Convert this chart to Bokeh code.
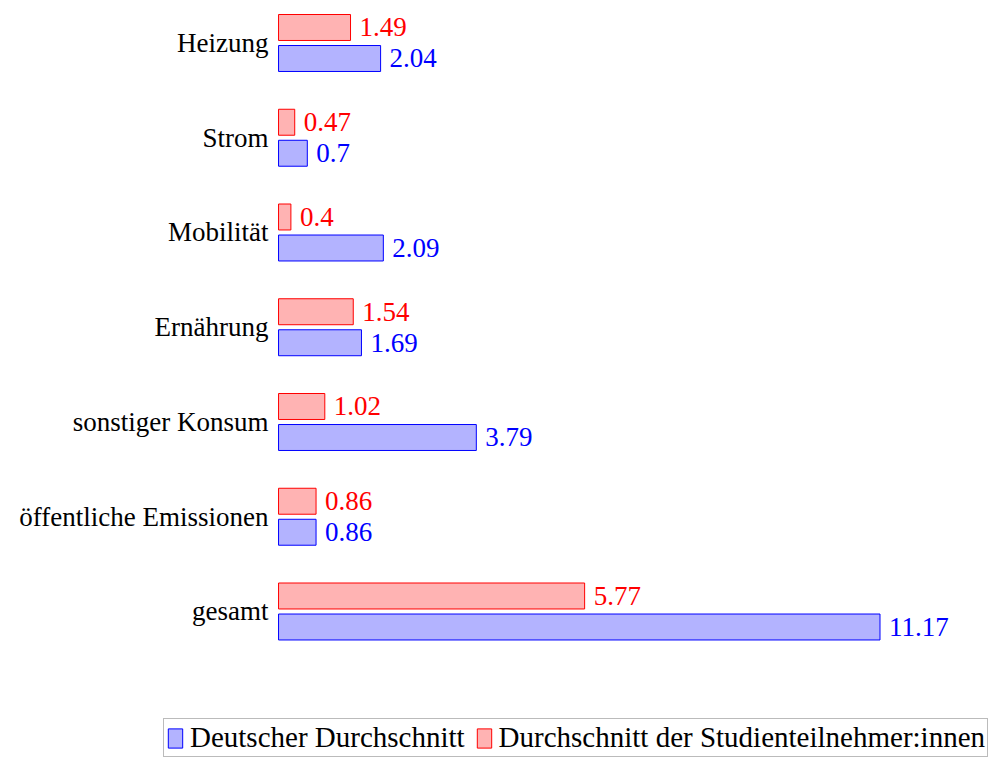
from bokeh.plotting import figure
from bokeh.models import Range1d, ColumnDataSource, Legend, LegendItem
from bokeh.core.properties import value
from bokeh.embed import file_html
from bokeh.resources import INLINE

categories = ["Heizung", "Strom", "Mobilität", "Ernährung", "sonstiger Konsum",
              "öffentliche Emissionen", "gesamt"]
deutsch = [2.04, 0.7, 2.09, 1.69, 3.79, 0.86, 11.17]
studierende = [1.49, 0.47, 0.4, 1.54, 1.02, 0.86, 5.77]
series_names = ["Deutscher Durchschnitt", "Durchschnitt der Studienteilnehmer:innen"]

XMIN = 0.174          # value axis starts here (bars grow from it)
FONT = "Liberation Serif"
FS = "27px"
BLUE_FILL, BLUE_LINE = "#b3b3ff", "#0000ff"
RED_FILL, RED_LINE = "#ffb3b3", "#ff0000"
n = len(categories)
ypos = [n - 1 - i for i in range(n)]

p = figure(width=997, height=758, output_backend="svg", toolbar_location=None,
           x_range=Range1d(-4.909, 13.318), y_range=Range1d(-1.5515, 6.4485),
           x_axis_location=None, y_axis_location=None,
           min_border_left=0, min_border_right=0, min_border_top=0, min_border_bottom=0)
p.outline_line_color = None
p.xgrid.visible = False
p.ygrid.visible = False

OFF = 0.1636
H = 0.274
src_b = ColumnDataSource(dict(y=[v - OFF for v in ypos], right=deutsch,
                              left=[XMIN] * n, lab=[str(v) for v in deutsch]))
src_r = ColumnDataSource(dict(y=[v + OFF for v in ypos], right=studierende,
                              left=[XMIN] * n, lab=[str(v) for v in studierende]))
src_c = ColumnDataSource(dict(y=ypos, x=[XMIN] * n, cat=categories))

rb = p.hbar(y="y", left="left", right="right", height=H, source=src_b,
            fill_color=BLUE_FILL, line_color=BLUE_LINE, line_width=1)
rr = p.hbar(y="y", left="left", right="right", height=H, source=src_r,
            fill_color=RED_FILL, line_color=RED_LINE, line_width=1)

p.text(x="right", y="y", text="lab", source=src_b, x_offset=9, text_align="left",
       text_baseline="middle", text_color=BLUE_LINE, text_font=value(FONT),
       text_font_size=FS)
p.text(x="right", y="y", text="lab", source=src_r, x_offset=9, text_align="left",
       text_baseline="middle", text_color=RED_LINE, text_font=value(FONT),
       text_font_size=FS)

# category labels (tick labels of the category axis)
p.text(x="x", y="y", text="cat", source=src_c, x_offset=-10, text_align="right",
       text_baseline="middle", text_color="black", text_font=value(FONT),
       text_font_size=FS)

legend = Legend(items=[LegendItem(label=series_names[0], renderers=[rb]),
                       LegendItem(label=series_names[1], renderers=[rr])],
                location=(163, 1), orientation="horizontal",
                label_text_font=FONT, label_text_font_size="29px",
                label_text_color="black", border_line_color="#777777",
                border_line_width=1, background_fill_alpha=1.0,
                glyph_width=18, glyph_height=24, label_standoff=6, spacing=10,
                padding=2, margin=0, label_height=29)
p.add_layout(legend, "center")

open("out.html", "w").write(file_html(p, INLINE))
